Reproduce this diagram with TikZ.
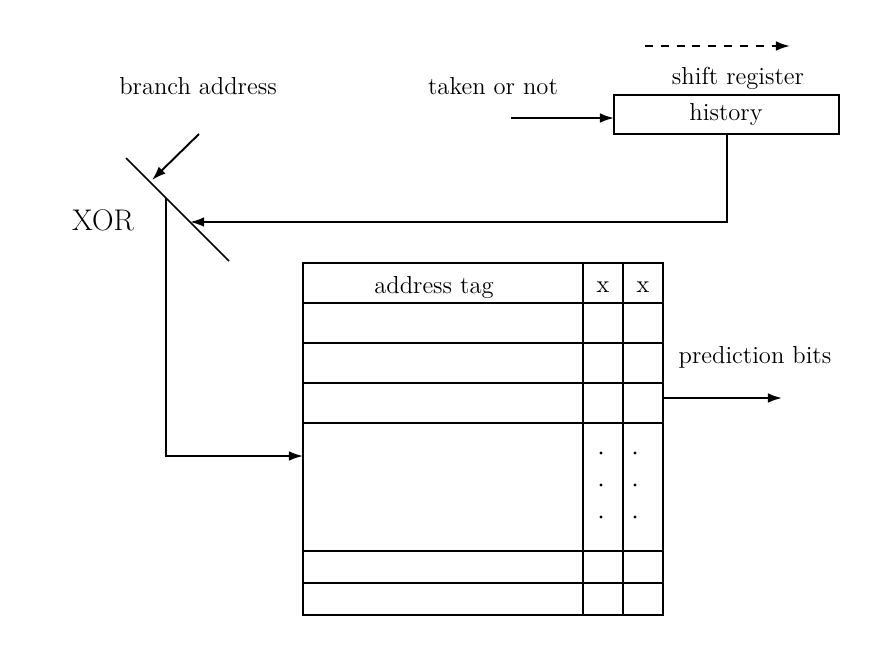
\documentclass[tikz,border=0pt]{standalone}
\usepackage{tikz}
\usetikzlibrary{arrows.meta}
\tikzset{
  wire/.style={line width=1.1pt},
  arr/.style={wire,-{Latex[length=8pt,width=5.5pt]}},
  lbl/.style={font=\fontsize{14}{16}\selectfont,inner sep=0pt},
}

\begin{document}
\begin{tikzpicture}[x=0.02cm,y=-0.02cm]
\useasboundingbox (0,0) rectangle (886,656);
% shift register
\draw[arr,dash pattern=on 4.5pt off 4.5pt] (645,46) coordinate (dsh1) -- (790,46) coordinate (dsh2);
\node[lbl] (sr) at (738,78) {shift register};
\draw[wire] (614,95) rectangle (839,134);
\node[lbl] (hist) at (726,114) {history};
\coordinate (histin) at (614,118);
\coordinate (histout) at (727,134);
\node[lbl] (tkn) at (493,86) {taken or not};
\coordinate (tknsrc) at (511,118);
\draw[arr] (tknsrc) -- (histin);
% xor
\node[lbl] (ba) at (198,86) {branch address};
\coordinate (basrc) at (199,134);
\coordinate (bahit) at (152,180);
\draw[line width=0.9pt] (126,158) coordinate (xor1) -- (229,261) coordinate (xor2);
\node[lbl,font=\fontsize{17}{19}\selectfont] (xor) at (103,220) {XOR};
\draw[arr] (basrc) -- (bahit);
\coordinate (histin2) at (190,222);
\draw[arr] (histout) |- (histin2);
\coordinate (xorout) at (166,198);
\coordinate (tblin) at (303,456);
\draw[arr] (xorout) |- (tblin);
% table
\draw[wire] (303,263) rectangle (663,615);
\foreach \yy in {303,343,383,423,551,583}
  \draw[wire] (303,\yy) -- (663,\yy);
\foreach \xx in {583,623}
  \draw[wire] (\xx,263) -- (\xx,615);
\node[lbl] (tag) at (434,287) {address tag};
\node[lbl] (x1) at (603,287) {x};
\node[lbl] (x2) at (643,287) {x};
\foreach \yy in {453,485,517}{
  \fill (601,\yy) circle (0.9pt);
  \fill (635,\yy) circle (0.9pt);
}
% prediction
\node[lbl] (pb) at (755,357) {prediction bits};
\coordinate (pbsrc) at (663,398);
\coordinate (pbdst) at (782,398);
\draw[arr] (pbsrc) -- (pbdst);
\end{tikzpicture}
\end{document}
